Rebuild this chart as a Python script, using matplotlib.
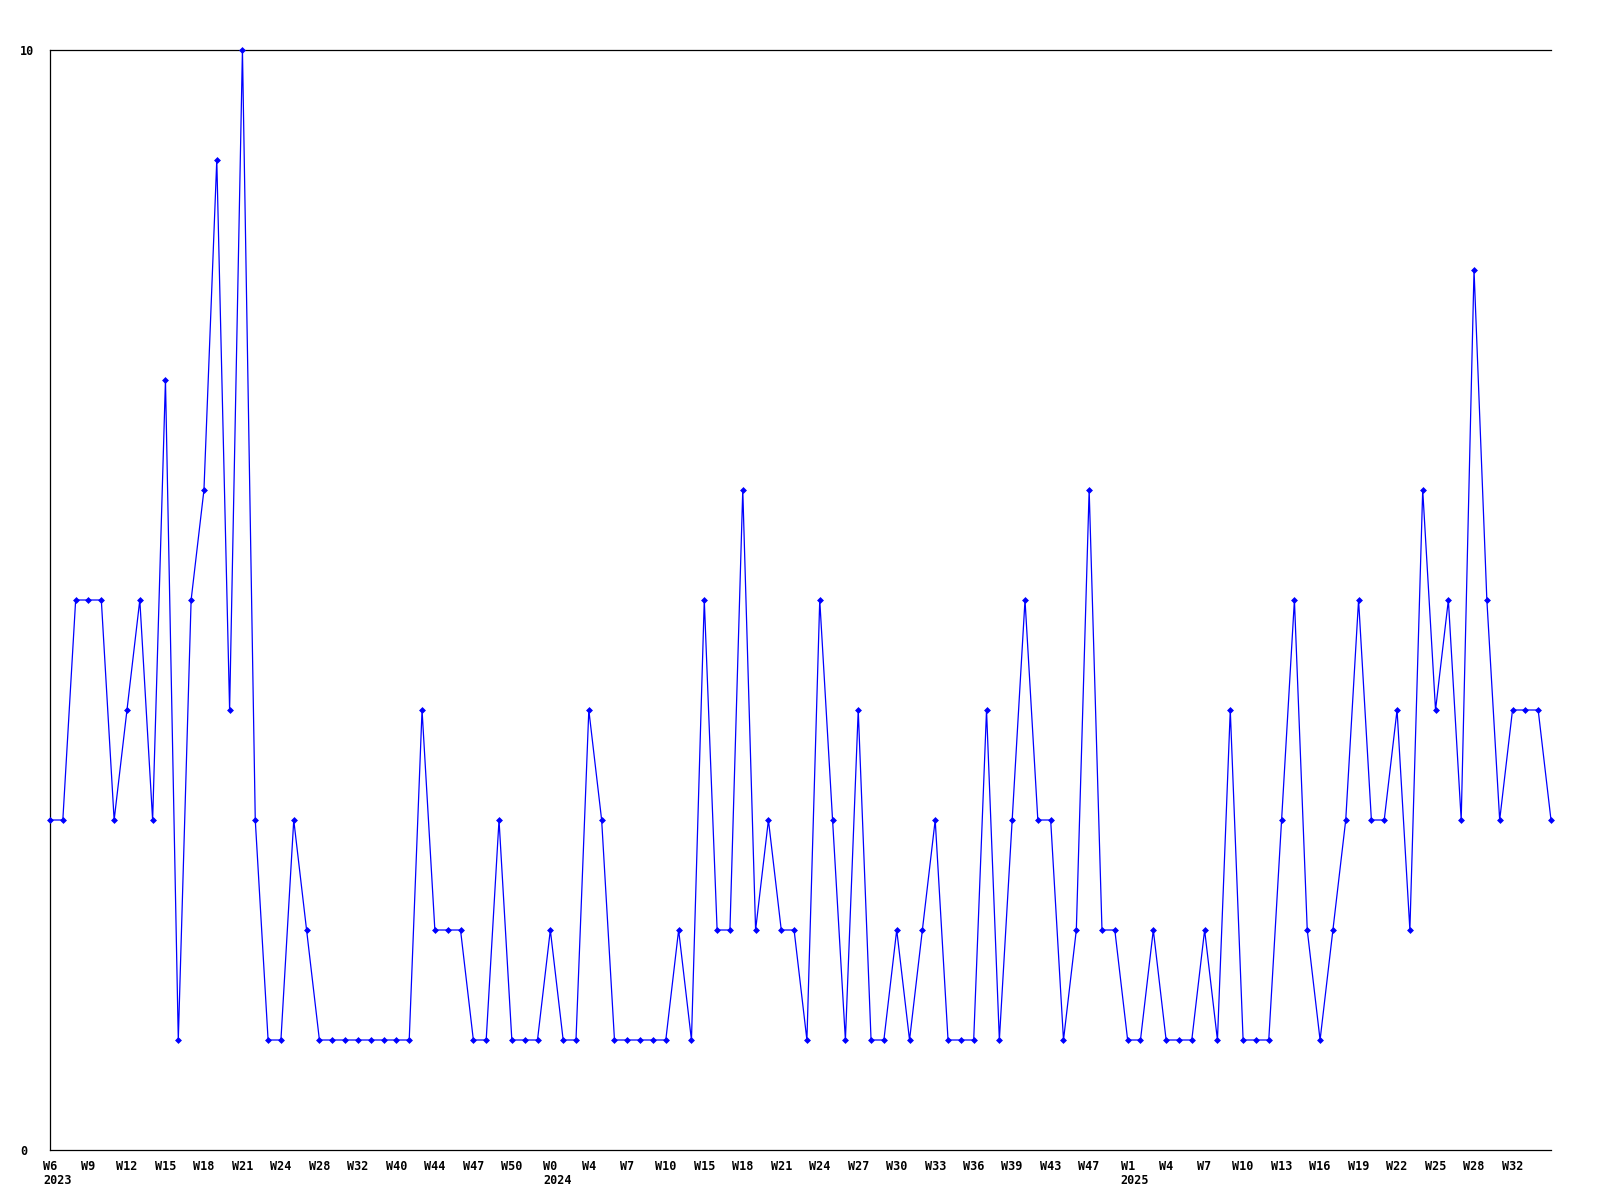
import matplotlib
matplotlib.use('Agg')
import matplotlib.pyplot as plt

# valores semanais (um ponto por semana com dados)
valores = [3, 3, 5, 5, 5, 3, 4, 5, 3, 7,
           1, 5, 6, 9, 4, 10, 3, 1, 1, 3,
           2, 1, 1, 1, 1, 1, 1, 1, 1, 4,
           2, 2, 2, 1, 1, 3, 1, 1, 1, 2,
           1, 1, 4, 3, 1, 1, 1, 1, 1, 2,
           1, 5, 2, 2, 6, 2, 3, 2, 2, 1,
           5, 3, 1, 4, 1, 1, 2, 1, 2, 3,
           1, 1, 1, 4, 1, 3, 5, 3, 3, 1,
           2, 6, 2, 2, 1, 1, 2, 1, 1, 1,
           2, 1, 4, 1, 1, 1, 3, 5, 2, 1,
           2, 3, 5, 3, 3, 4, 2, 6, 4, 5,
           3, 8, 5, 3, 4, 4, 4, 3]

# rótulos do eixo x (um a cada 3 pontos)
rotulos_x = ['W6', 'W9', 'W12', 'W15', 'W18', 'W21', 'W24', 'W28', 'W32', 'W40',
             'W44', 'W47', 'W50', 'W0', 'W4', 'W7', 'W10', 'W15', 'W18', 'W21',
             'W24', 'W27', 'W30', 'W33', 'W36', 'W39', 'W43', 'W47', 'W1', 'W4',
             'W7', 'W10', 'W13', 'W16', 'W19', 'W22', 'W25', 'W28', 'W32']

# anos e o índice do rótulo onde começam
anos = ['2023', '2024', '2025']
inicio_anos = [0, 13, 28]

x = list(range(len(valores)))
posicoes_x = list(range(0, len(valores), 3))[:len(rotulos_x)]

fig = plt.figure(figsize=(16, 12), dpi=100)
ax = fig.add_axes([50 / 1600, 50 / 1200, 1501 / 1600, 1100 / 1200])

ax.plot(x, valores, color='#0000ff', linewidth=0.9, marker='D', markersize=3,
        markeredgewidth=0.5, clip_on=False, zorder=3)

ax.set_xlim(0, len(valores) - 1)
ax.set_ylim(0, 10)

tam = 8.5
fonte = dict(family='DejaVu Sans Mono', weight='bold', size=tam)

ax.set_xticks(posicoes_x)
ax.set_xticklabels(rotulos_x, fontdict=fonte, va='top')
ax.set_yticks([0, 10])
ax.set_yticklabels(['0', '10'], fontdict=fonte, ha='left')

ax.tick_params(axis='x', length=0, pad=7)
ax.tick_params(axis='y', length=0, pad=30 * 0.72)

# ano abaixo do primeiro rótulo de cada ano, alinhado à esquerda do rótulo
for ano, i in zip(anos, inicio_anos):
    largura = len(rotulos_x[i]) * 0.6 * tam
    ax.annotate(ano, xy=(posicoes_x[i], 0), xycoords=('data', 'axes fraction'),
                xytext=(-largura / 2, -17), textcoords='offset points',
                ha='left', va='top', annotation_clip=False, **fonte)

# Configurações das bordas
ax.spines['right'].set_visible(False)
for lado in ['left', 'bottom', 'top']:
    ax.spines[lado].set_linewidth(0.9)
    ax.spines[lado].set_color('black')

fig.savefig('out.png', dpi=100)
